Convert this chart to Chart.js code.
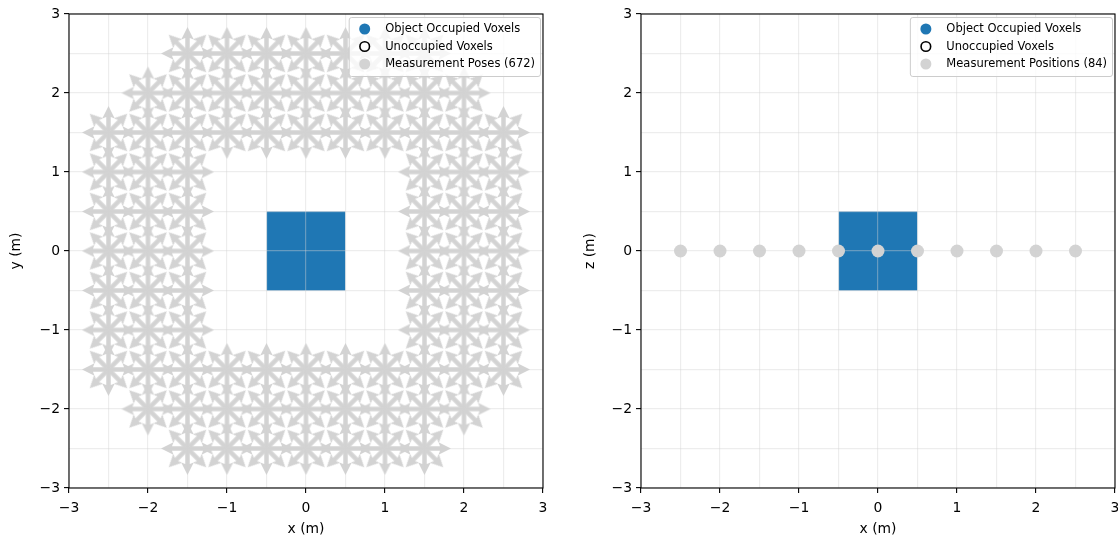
<!DOCTYPE html>
<html>
<head>
<meta charset="utf-8">
<script src="https://cdn.jsdelivr.net/npm/chart.js@4.4.0/dist/chart.umd.min.js"></script>
<style>
  html, body { margin: 0; padding: 0; background: #fff; overflow: hidden; }
  #wrap { position: relative; width: 1118px; height: 541px; }
  canvas { position: absolute; top: 0; }
</style>
</head>
<body>
<div id="wrap">
  <canvas id="left" width="559" height="541" style="left:0"></canvas>
  <canvas id="right" width="570" height="541" style="left:559px"></canvas>
</div>
<script>
// measurement pose grid (left panel): one row per y, x positions in that row
const poseRowY = [2.5, 2, 1.5, 1, 0.5, 0, -0.5, -1, -1.5, -2, -2.5];
const poseRowX = [
  [-1.5, -1, -0.5, 0, 0.5, 1, 1.5],
  [-2, -1.5, -1, -0.5, 0, 0.5, 1, 1.5, 2],
  [-2.5, -2, -1.5, -1, -0.5, 0, 0.5, 1, 1.5, 2, 2.5],
  [-2.5, -2, -1.5, 1.5, 2, 2.5],
  [-2.5, -2, -1.5, 1.5, 2, 2.5],
  [-2.5, -2, -1.5, 1.5, 2, 2.5],
  [-2.5, -2, -1.5, 1.5, 2, 2.5],
  [-2.5, -2, -1.5, 1.5, 2, 2.5],
  [-2.5, -2, -1.5, -1, -0.5, 0, 0.5, 1, 1.5, 2, 2.5],
  [-2, -1.5, -1, -0.5, 0, 0.5, 1, 1.5, 2],
  [-1.5, -1, -0.5, 0, 0.5, 1, 1.5]
];
const poseAngles = [0, 45, 90, 135, 180, 225, 270, 315];

// measurement positions (right panel)
const posX = [-2.5, -2, -1.5, -1, -0.5, 0, 0.5, 1, 1.5, 2, 2.5];
const posZ = [0, 0, 0, 0, 0, 0, 0, 0, 0, 0, 0];

// occupied voxel block extent
const occX = [-0.5, 0.5];
const occY = [-0.5, 0.5];

const axisMin = -3, axisMax = 3;

const BLUE = '#1f77b4';
const GRAY = '#d3d3d3';
const FONT = '"DejaVu Sans", sans-serif';

// build pose list: every position with every direction
const poses = [];
poseRowY.forEach((y, r) => {
  poseRowX[r].forEach(x => {
    poseAngles.forEach(a => poses.push({ x, y, a }));
  });
});

function makeArrow(len) {
  const size = Math.ceil(len * 2 + 4);
  const c = document.createElement('canvas');
  c.width = c.height = size;
  const g = c.getContext('2d');
  const m = size / 2;
  const hw = 2.2, hh = 6.3, hl = 12.5, hal = 11;
  g.fillStyle = GRAY;
  g.beginPath();
  g.moveTo(m, m - hw);
  g.lineTo(m + len - hal, m - hw);
  g.lineTo(m + len - hl, m - hh);
  g.lineTo(m + len, m);
  g.lineTo(m + len - hl, m + hh);
  g.lineTo(m + len - hal, m + hw);
  g.lineTo(m, m + hw);
  g.closePath();
  g.fill();
  return c;
}
const arrowImg = makeArrow(26.5);

const isMajor = v => Math.abs(v - Math.round(v)) < 1e-9;
const fmt = v => String(Math.round(v)).replace('-', '\u2212');

function axis(title, size, tickPad, titlePad) {
  return {
    type: 'linear',
    min: axisMin,
    max: axisMax,
    grid: {
      z: 1,
      color: 'rgba(211,211,211,0.4)',
      lineWidth: 1.2,
      tickLength: 5,
      tickWidth: 1.1,
      tickColor: ctx => (ctx.tick && isMajor(ctx.tick.value)) ? '#000' : 'rgba(0,0,0,0)'
    },
    border: { display: false },
    ticks: {
      stepSize: 0.5,
      autoSkip: false,
      maxRotation: 0,
      padding: tickPad,
      color: '#000',
      font: { family: FONT, size: 13.9 },
      callback: v => isMajor(v) ? fmt(v) : ''
    },
    title: {
      display: true,
      text: title,
      color: '#000',
      font: { family: FONT, size: 13.9 },
      padding: titlePad
    },
    afterFit: size
  };
}

// spines on all four sides
const frame = {
  id: 'frame',
  afterDraw(chart) {
    const { ctx, chartArea: a } = chart;
    ctx.save();
    ctx.strokeStyle = '#000';
    ctx.lineWidth = 1.1;
    ctx.strokeRect(a.left, a.top, a.right - a.left, a.bottom - a.top);
    ctx.restore();
  }
};

// matplotlib-like legend box in the upper right of the axes
const boxLegend = {
  id: 'boxLegend',
  afterDraw(chart, args, opts) {
    const { ctx, chartArea: a } = chart;
    const items = opts.items || [];
    ctx.save();
    ctx.font = '11.5px ' + FONT;
    const w = Math.max(...items.map(i => ctx.measureText(i.text).width));
    const bw = 36.5 + w + 5, bh = 59;
    const bx = a.right - 3 - bw, by = a.top + 3;
    ctx.beginPath();
    ctx.roundRect(bx + 0.5, by + 0.5, bw, bh, 2.5);
    ctx.fillStyle = 'rgba(255,255,255,0.8)';
    ctx.fill();
    ctx.strokeStyle = '#cccccc';
    ctx.lineWidth = 1;
    ctx.stroke();
    items.forEach((it, k) => {
      const cy = by + 12 + k * 17.5;
      ctx.beginPath();
      ctx.arc(bx + 16, cy, it.hollow ? 4.8 : 5.5, 0, Math.PI * 2);
      if (it.hollow) {
        ctx.strokeStyle = '#000';
        ctx.lineWidth = 1.6;
        ctx.stroke();
      } else {
        ctx.fillStyle = it.color;
        ctx.fill();
      }
      ctx.fillStyle = '#000';
      ctx.textBaseline = 'middle';
      ctx.textAlign = 'left';
      ctx.fillText(it.text, bx + 36.5, cy + 0.5);
    });
    ctx.restore();
  }
};

function voxelSets() {
  return [
    {
      label: 'Object Occupied Voxels',
      data: occX.map(x => ({ x, y: occY[1] })),
      showLine: true,
      fill: '+1',
      backgroundColor: BLUE,
      borderWidth: 0,
      borderColor: 'rgba(0,0,0,0)',
      pointRadius: 0,
      order: 3
    },
    {
      label: 'occupied-bottom',
      data: occX.map(x => ({ x, y: occY[0] })),
      showLine: true,
      fill: false,
      borderWidth: 0,
      borderColor: 'rgba(0,0,0,0)',
      pointRadius: 0,
      order: 3
    },
    { label: 'Unoccupied Voxels', data: [], showLine: false, pointRadius: 0, order: 4 }
  ];
}

function makeChart(id, yTitle, pad, yWidth, marksSet, legendText) {
  return new Chart(document.getElementById(id), {
    type: 'line',
    data: { datasets: [marksSet, ...voxelSets()] },
    options: {
      responsive: false,
      animation: false,
      events: [],
      layout: { padding: pad },
      scales: {
        x: axis('x (m)', s => { s.height = 52; }, 7, { top: 4, bottom: 2 }),
        y: axis(yTitle, s => { s.width = yWidth; }, 4, { top: 4, bottom: 4 })
      },
      plugins: {
        legend: { display: false },
        tooltip: { enabled: false },
        boxLegend: {
          items: [
            { text: 'Object Occupied Voxels', color: BLUE },
            { text: 'Unoccupied Voxels', hollow: true },
            { text: legendText, color: GRAY }
          ]
        }
      }
    },
    plugins: [frame, boxLegend]
  });
}

makeChart('left', 'y (m)', { left: 4, right: 16, top: 14, bottom: 1 }, 65, {
  label: 'Measurement Poses (672)',
  data: poses,
  showLine: false,
  pointStyle: arrowImg,
  pointRadius: 10,
  pointHoverRadius: 10,
  rotation: ctx => (ctx.raw ? -ctx.raw.a : 0),
  order: 1
}, 'Measurement Poses (672)');

makeChart('right', 'z (m)', { left: 19, right: 14, top: 14, bottom: 1 }, 63, {
  label: 'Measurement Positions (84)',
  data: posX.map((x, i) => ({ x, y: posZ[i] })),
  showLine: false,
  pointRadius: 6.5,
  pointHoverRadius: 6.5,
  pointBackgroundColor: GRAY,
  pointBorderWidth: 0,
  order: 1
}, 'Measurement Positions (84)');
</script>
</body>
</html>
